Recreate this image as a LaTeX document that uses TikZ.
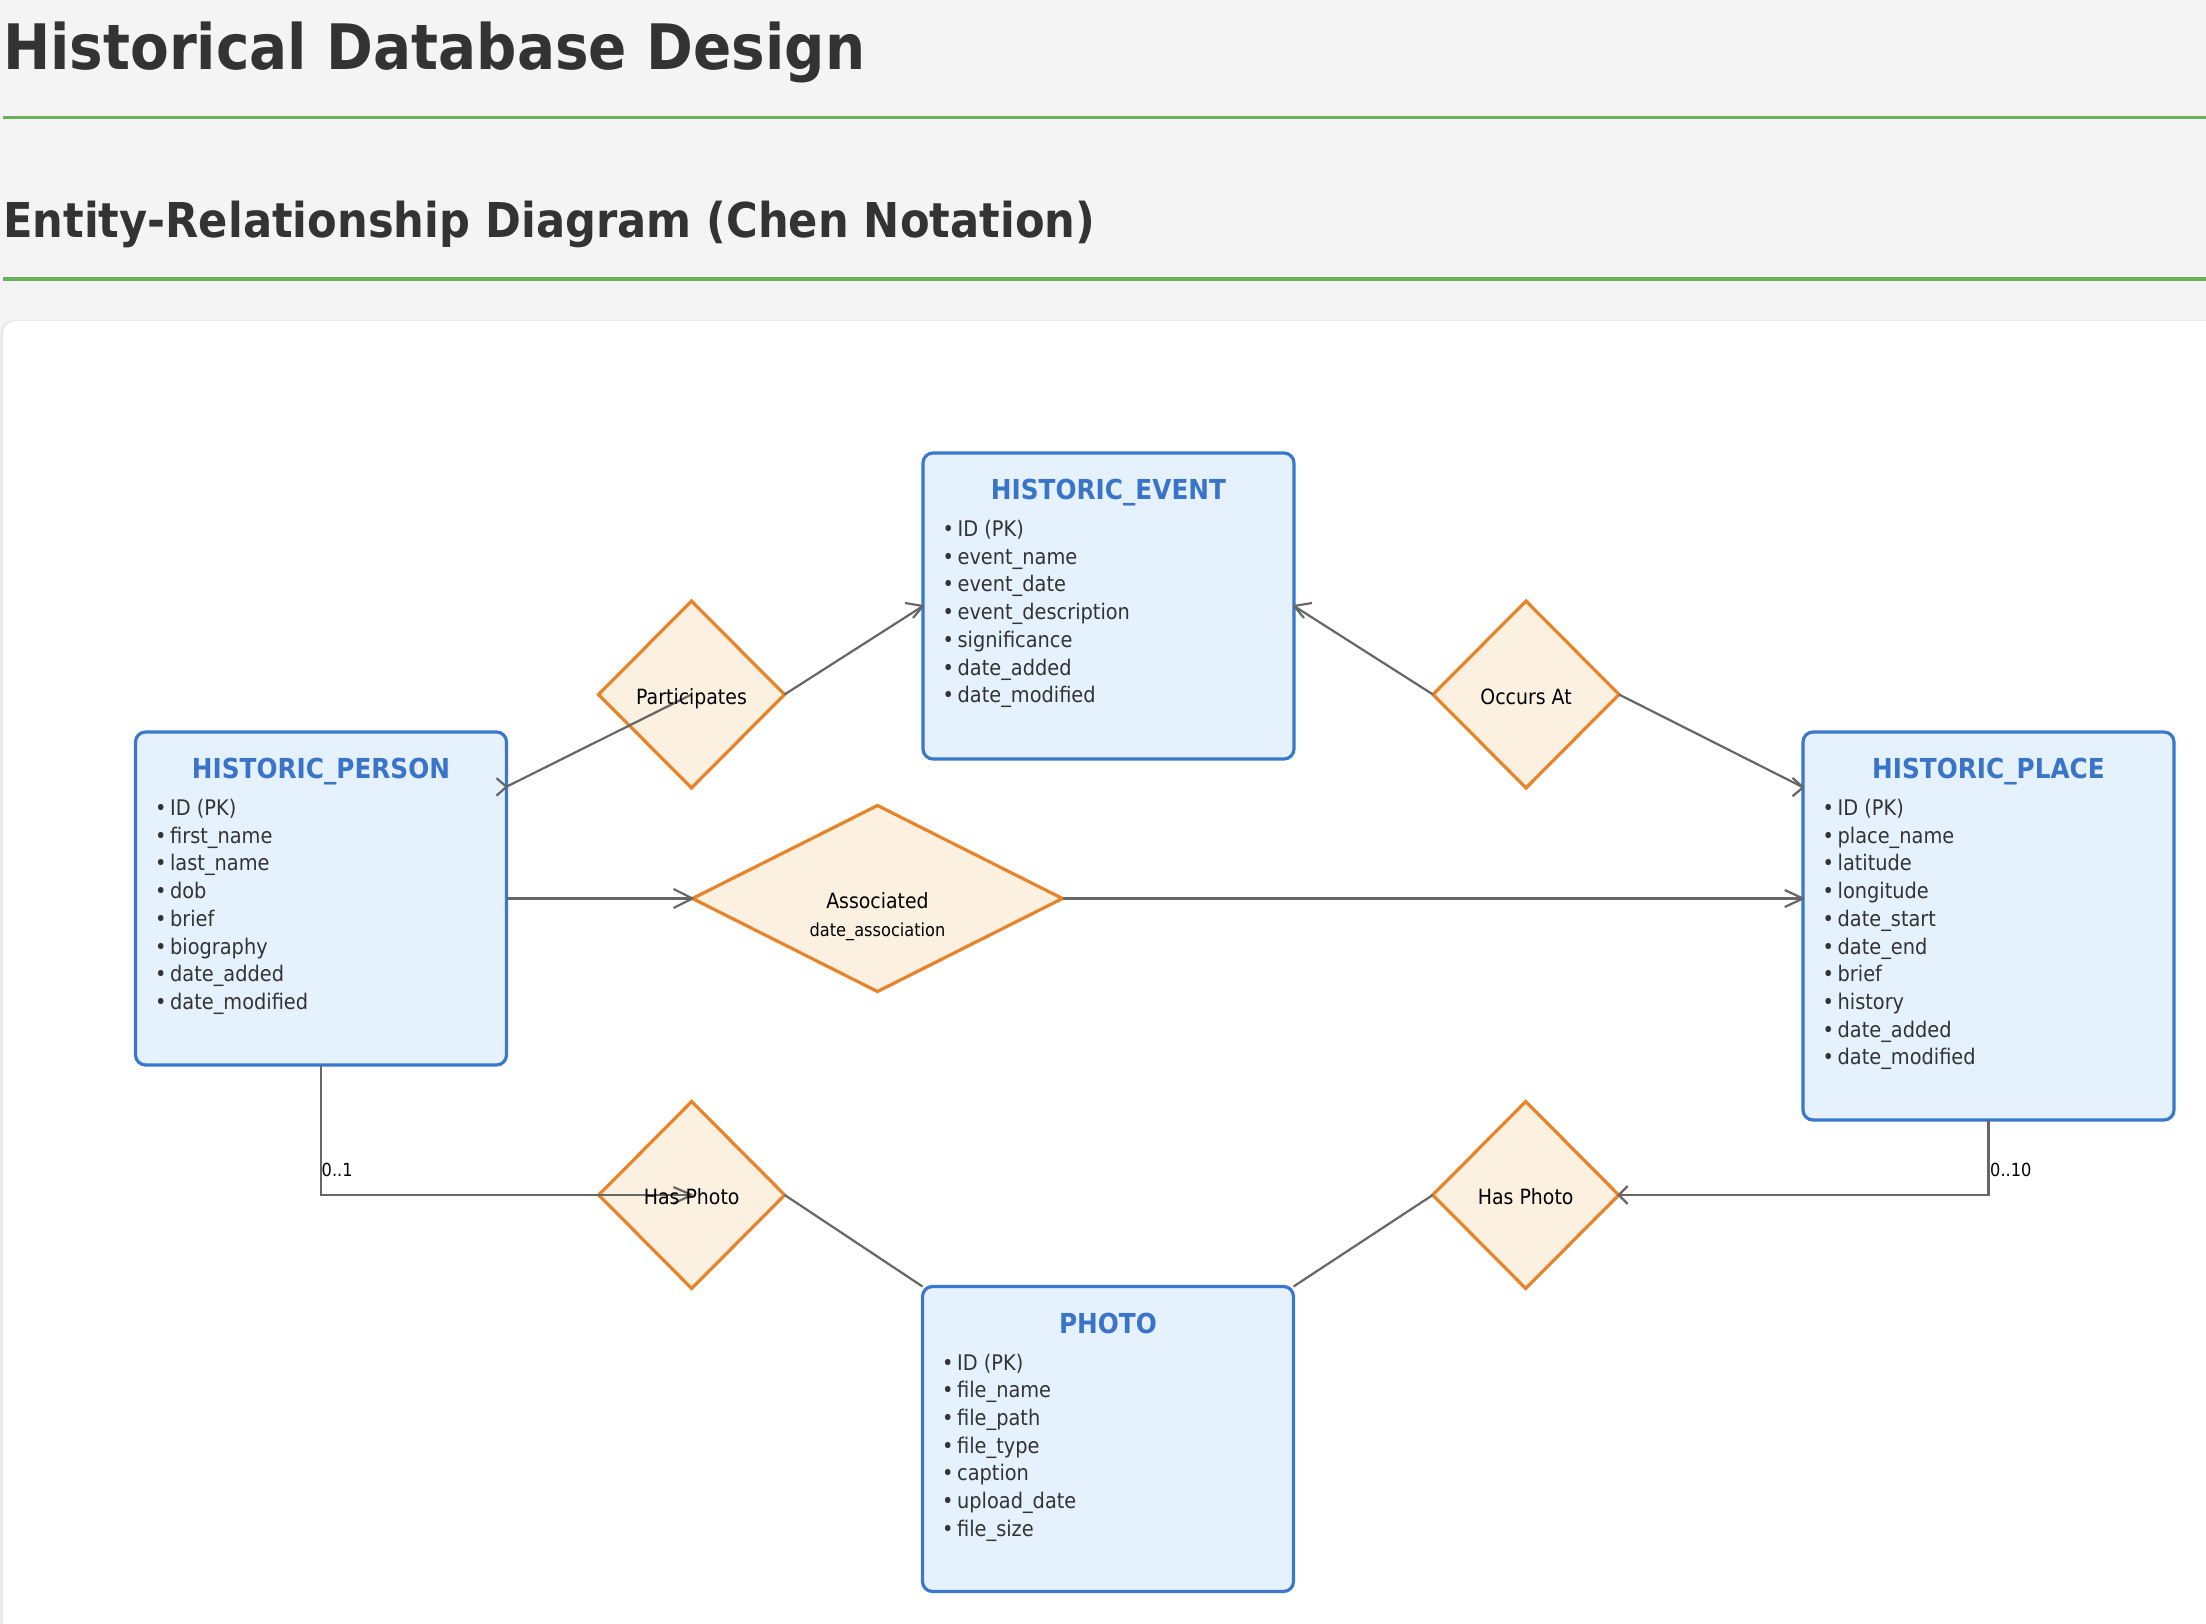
\documentclass[tikz,border=0pt]{standalone}
\usepackage{fontspec}
\setmainfont{DejaVu Sans}[FakeStretch=0.9]
\usetikzlibrary{shapes.geometric,calc}
\definecolor{bgc}{HTML}{F4F4F4}
\definecolor{ruleg}{HTML}{6AAF5B}
\definecolor{ink}{HTML}{333333}
\definecolor{entfill}{HTML}{E5F1FC}
\definecolor{entdraw}{HTML}{3A78CC}
\definecolor{enttitle}{HTML}{3A74C8}
\definecolor{relfill}{HTML}{FCF1E1}
\definecolor{reldraw}{HTML}{E8832A}
\definecolor{conncol}{HTML}{666666}
\newcommand\myfs[1]{\fontsize{#1}{#1}\selectfont}
\newcommand\barbs[3]{\draw[conn, line join=round] ($(#1)+(#2)$) -- (#1) -- ($(#1)+(#3)$);}
\begin{document}
\begin{tikzpicture}[x=1pt,y=-1pt,
  entity/.style={draw=entdraw, fill=entfill, line width=3.2pt, rounded corners=10pt, minimum width=371pt, inner sep=0pt, outer sep=0pt},
  rel/.style={diamond, draw=reldraw, fill=relfill, line width=3.2pt, inner sep=0pt, outer sep=0pt, minimum width=186pt, minimum height=187pt},
  etitle/.style={anchor=base, inner sep=0pt, text=enttitle, font={\myfs{27.5}\bfseries}},
  attr/.style={anchor=base west, inner sep=0pt, text=ink, font={\myfs{21.5}}},
  rlabel/.style={anchor=base, inner sep=0pt, text=black, font={\myfs{21}}},
  card/.style={anchor=base west, inner sep=0pt, text=black, font={\myfs{18}}},
  conn/.style={draw=conncol, line width=2.2pt},
  heading/.style={anchor=base west, inner sep=0pt, text=ink}
]
\useasboundingbox (0,0) rectangle (2206,1624);
\clip (0,0) rectangle (2206,1624);
\fill[bgc] (0,0) rectangle (2206,1624);

% headings
\node[heading, font={\myfs{62.7}\bfseries}] (title) at (3,70) {Historical Database Design};
\draw[ruleg, line width=3.3pt] (3,117.7) -- (2206,117.7);
\node[heading, font={\myfs{48}\bfseries}] (subtitle) at (3,237) {Entity-Relationship Diagram (Chen Notation)};
\draw[ruleg, line width=3.3pt] (3,279) -- (2206,279);

% panel
\fill[black!9, rounded corners=13pt] (0.5,320) rectangle (2300,1720);
\fill[white, rounded corners=13pt] (3,321) rectangle (2300,1720);

% entities
\node[entity, minimum height=333pt] (person) at (321,898.5) {};
\node[entity, minimum height=306pt] (event) at (1108.5,606) {};
\node[entity, minimum height=388pt] (place) at (1988.5,926) {};
\node[entity, minimum height=305pt] (photo) at (1108,1439) {};

\node[etitle] (person-title) at ($(person.north)+(0,46.5)$) {HISTORIC\_PERSON};
\node[etitle] (event-title) at ($(event.north)+(0,46.5)$) {HISTORIC\_EVENT};
\node[etitle] (place-title) at ($(place.north)+(0,46.5)$) {HISTORIC\_PLACE};
\node[etitle] (photo-title) at ($(photo.north)+(0,46.5)$) {PHOTO};

\foreach \aname [count=\i] in {ID (PK), first\_name, last\_name, dob, brief, biography, date\_added, date\_modified}
  \node[attr] (person-a\i) at ($(person.north west)+(19.4,83.5+27.7*\i-27.7)$) {•\hspace{3.6pt}\aname};
\foreach \aname [count=\i] in {ID (PK), event\_name, event\_date, event\_description, significance, date\_added, date\_modified}
  \node[attr] (event-a\i) at ($(event.north west)+(19.4,83.5+27.7*\i-27.7)$) {•\hspace{3.6pt}\aname};
\foreach \aname [count=\i] in {ID (PK), place\_name, latitude, longitude, date\_start, date\_end, brief, history, date\_added, date\_modified}
  \node[attr] (place-a\i) at ($(place.north west)+(19.4,83.5+27.7*\i-27.7)$) {•\hspace{3.6pt}\aname};
\foreach \aname [count=\i] in {ID (PK), file\_name, file\_path, file\_type, caption, upload\_date, file\_size}
  \node[attr] (photo-a\i) at ($(photo.north west)+(19.4,83.5+27.7*\i-27.7)$) {•\hspace{3.6pt}\aname};

% relationships
\node[rel] (part) at (691.5,694.5) {};
\node[rel] (occurs) at (1526,694.5) {};
\node[rel, minimum width=370pt, minimum height=186pt] (assoc) at (877.5,898.5) {};
\node[rel] (hp1) at (691.7,1195) {};
\node[rel] (hp2) at (1525.7,1195) {};

% connector end points
\coordinate (pA) at ($(person.north east)+(0,54.7)$);
\coordinate (pB) at ($(place.north west)+(0,55.3)$);
\coordinate (pC) at ($(place.north west)+(0,166.5)$);

% connectors
\draw[conn] (pA) -- (part.center);
\draw[conn] (part.east) -- (event.west);
\draw[conn] (event.east) -- (occurs.west);
\draw[conn] (occurs.east) -- (pB);
\draw[conn] (person.east) -- (assoc.west);
\draw[conn] (assoc.east) -- (pC);
\draw[conn] (person.south) |- (hp1.center);
\draw[conn] (place.south) |- (hp2.east);
\draw[conn] (hp1.east) -- (photo.north west);
\draw[conn] (photo.north east) -- (hp2.west);

% arrow heads
\barbs{pA}{-10,-8.5}{-10,9}
\barbs{event.west}{-18,-3}{-10,12}
\barbs{event.east}{18,-3}{10,12}
\barbs{pB}{-10.5,-9.5}{-10.5,9}
\barbs{assoc.west}{-19,-9.5}{-19,9.5}
\barbs{pC}{-18.3,-8.5}{-18.3,8.5}
\barbs{hp1.center}{-18.3,-8}{-18.3,8.5}
\barbs{hp2.east}{9,-9}{9,9}

% labels
\node[rlabel] (part-l) at ($(part.center)+(0,9.5)$) {Participates};
\node[rlabel] (occurs-l) at ($(occurs.center)+(0,9.5)$) {Occurs At};
\node[rlabel] (assoc-l) at ($(assoc.center)+(0,9.5)$) {Associated};
\node[rlabel, font={\myfs{18}}] (assoc-attr) at ($(assoc.center)+(0,37.5)$) {date\_association};
\node[rlabel] (hp1-l) at ($(hp1.center)+(0,9)$) {Has Photo};
\node[rlabel] (hp2-l) at ($(hp2.center)+(0,9)$) {Has Photo};
\node[card] (card1) at ($(person.south)+(0.5,111)$) {0..1};
\node[card] (card2) at ($(place.south)+(1.5,56)$) {0..10};
\end{tikzpicture}
\end{document}
